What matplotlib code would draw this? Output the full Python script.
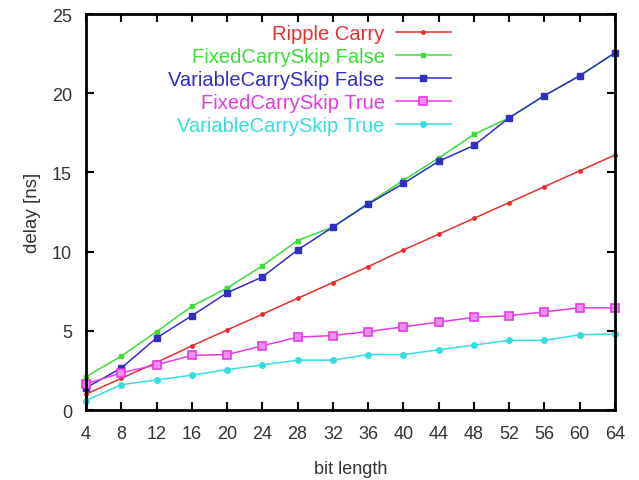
import numpy as np
import matplotlib
matplotlib.use("Agg")
import matplotlib.pyplot as plt

plt.rcParams['font.family'] = ['Liberation Sans', 'DejaVu Sans']

bits = [4, 8, 12, 16, 20, 24, 28, 32, 36, 40, 44, 48, 52, 56, 60, 64]

ripple = [1.0, 2.0, 3.0, 4.05, 5.05, 6.05, 7.05, 8.05, 9.05, 10.1, 11.1, 12.1, 13.1, 14.1, 15.1, 16.1]
fixed_false = [2.1, 3.4, 4.95, 6.55, 7.7, 9.1, 10.7, 11.55, 13.05, 14.5, 15.9, 17.4, 18.45, 19.85, 21.1, 22.55]
var_false = [1.4, 2.65, 4.55, 5.95, 7.4, 8.4, 10.1, 11.55, 13.0, 14.3, 15.7, 16.7, 18.45, 19.85, 21.1, 22.55]
fixed_true = [1.65, 2.35, 2.85, 3.45, 3.5, 4.05, 4.6, 4.7, 4.95, 5.25, 5.55, 5.85, 5.95, 6.2, 6.45, 6.45]
var_true = [0.6, 1.6, 1.9, 2.2, 2.55, 2.85, 3.15, 3.15, 3.5, 3.5, 3.8, 4.1, 4.4, 4.4, 4.75, 4.8]

labels = ['Ripple Carry', 'FixedCarrySkip False', 'VariableCarrySkip False',
          'FixedCarrySkip True', 'VariableCarrySkip True']
colors = ['#e8302e', '#3ddc3a', '#2f2fc8', '#e63ae6', '#35dede']

fig = plt.figure(figsize=(6.39, 4.81), dpi=100)
ax = fig.add_axes([0.1346, 0.1455, 0.8278, 0.8233])

ax.plot(bits, ripple, color=colors[0], lw=1.1, marker='o', ms=2.5, clip_on=False, label=labels[0])
ax.plot(bits, fixed_false, color=colors[1], lw=1.1, marker='s', ms=3.5, clip_on=False, label=labels[1])
ax.plot(bits, var_false, color=colors[2], lw=1.1, marker='s', ms=4.5, clip_on=False, label=labels[2])
ax.plot(bits, fixed_true, color=colors[3], lw=1.1, marker='s', ms=6, mfc='#f08ef0', mew=1.2,
        clip_on=False, label=labels[3])
ax.plot(bits, var_true, color=colors[4], lw=1.1, marker='o', ms=4, clip_on=False, label=labels[4])

ax.set_xlim(4, 64)
ax.set_ylim(0, 25)
ax.set_xticks(bits)
ax.set_yticks([0, 5, 10, 15, 20, 25])
ax.tick_params(direction='in', top=True, right=True, length=6, width=1.5,
               labelsize=13, labelcolor='#333333')
ax.tick_params(axis='x', pad=11)
ax.tick_params(axis='y', pad=10)
for s in ax.spines.values():
    s.set_linewidth(2)

ax.set_xlabel('bit length', fontsize=13, color='#333333', labelpad=13)
ax.set_ylabel('delay [ns]', fontsize=13.5, color='#333333', labelpad=8)

leg = ax.legend(loc='upper right', bbox_to_anchor=(0.69, 0.975), frameon=False,
                markerfirst=False, fontsize=14.5, handlelength=2.75, handletextpad=0.55,
                labelspacing=0.2, borderpad=0, borderaxespad=0)
for t, c in zip(leg.get_texts(), colors):
    t.set_color(c)

fig.savefig('out.png', dpi=100)
